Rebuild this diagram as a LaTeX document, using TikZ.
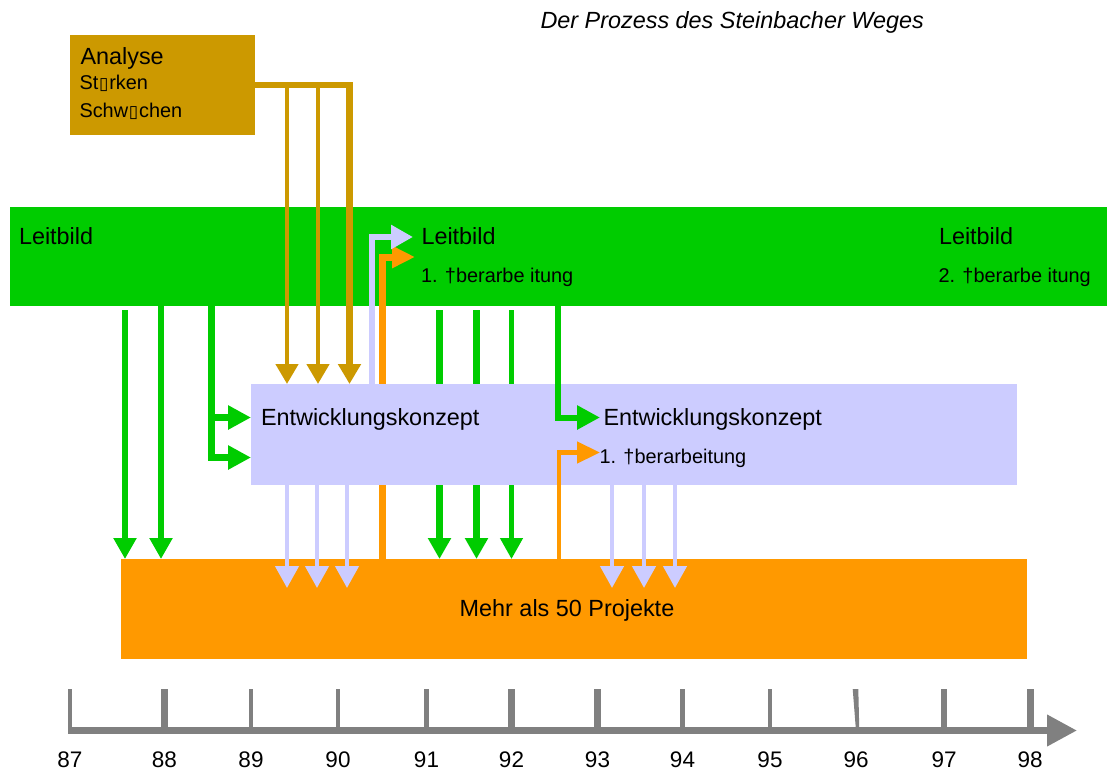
\documentclass[tikz,border=0pt]{standalone}
\usepackage{fontspec}
\setmainfont{Liberation Sans}
\newfontfamily\symfont{DejaVu Sans}
\usetikzlibrary{arrows.meta}
\definecolor{cgreen}{HTML}{00CC00}
\definecolor{cgold}{HTML}{CC9900}
\definecolor{clav}{HTML}{CCCCFF}
\definecolor{corange}{HTML}{FF9900}
\definecolor{cgray}{HTML}{808080}
\newcommand\fbig{\fontsize{23.4pt}{27pt}\selectfont}
\newcommand\fsmall{\fontsize{19.9pt}{23pt}\selectfont}
\newcommand\fnum{\fontsize{22.5pt}{26pt}\selectfont}
\newcommand\nbox{\kern0.8pt{\symfont\fontsize{17pt}{19pt}\selectfont ▯}\kern0.8pt}
\begin{document}
\begin{tikzpicture}[x=1pt,y=-1pt,
  panel/.style={inner sep=0pt, outer sep=0pt, anchor=north west, draw=none},
  lbl/.style={inner sep=0pt, outer sep=0pt, anchor=base west, text=black},
  tipA/.style={-{Triangle[length=21pt,width=22pt]}},
  tipB/.style={-{Triangle[length=23pt,width=23pt]}},
  garrow/.style={tipA, draw=cgreen, line width=6.5pt},
  garrowb/.style={tipB, draw=cgreen, line width=6.5pt},
  goldarrow/.style={-{Triangle[length=20pt,width=22pt]}, draw=cgold},
  larrow/.style={-{Triangle[length=22pt,width=23pt]}, draw=clav, line width=4.5pt},
  oarrow/.style={-{Triangle[length=23pt,width=21pt]}, draw=corange},
  axisline/.style={-{Triangle[length=30pt,width=30pt]}, draw=cgray, line width=7pt},
  tick/.style={draw=cgray},
  num/.style={inner sep=0pt, outer sep=0pt, anchor=base, font=\fnum}
]
\useasboundingbox[fill=white] (0,0) rectangle (1107,770);

% title
\node[lbl, font=\fbig\itshape] (title) at (540.5,28.5) {Der Prozess des Steinbacher Weges};

% panels
\node[panel, fill=cgreen, minimum width=1097pt, minimum height=99pt] (lb) at (10,207) {};
\node[panel, fill=cgold, minimum width=185pt, minimum height=100pt] (ana) at (70,35) {};
\node[panel, fill=corange, minimum width=906pt, minimum height=100pt] (proj) at (121,559) {};

% arrows passing behind the Entwicklungskonzept panel
\foreach \x/\w in {439.5/7, 476.5/7, 511.5/4.5}{
  \path (\x,310) coordinate (gs);
  \draw[garrow, line width=\w pt] (gs) -- (gs |- proj.north);
}
\coordinate (o1e) at (415,257);
\draw[oarrow, line width=7pt] (proj.north -| 382.5,0) |- (o1e);

\node[panel, fill=clav, minimum width=766pt, minimum height=101pt] (ent) at (251,384) {};

% green arrows
\coordinate (g1s) at (125,310);
\draw[garrow] (g1s) -- (g1s |- proj.north);
\draw[garrow] (lb.south -| 161,0) -- (proj.north -| 161,0);
\draw[garrowb] (lb.south -| 211.5,0) |- (ent.west |- 0,417.5);
\draw[garrowb] (lb.south -| 211.5,0) |- (ent.west |- 0,457.5);
\coordinate (e2g) at (600,417.5);
\draw[garrowb, line width=6pt] (lb.south -| 557.5,0) |- (e2g);

% orange arrow to 1. Ueberarbeitung
\coordinate (e2o) at (600,452.5);
\draw[oarrow, line width=4.5pt] (proj.north -| 559,0) |- (e2o);

% lavender arrows
\coordinate (lb1l) at (413,237);
\draw[larrow, line width=6pt] (ent.north -| 372,0) |- (lb1l);
\foreach \x in {287,317,347,612,644,675}{
  \path (\x,588) coordinate (ld);
  \draw[larrow] (ent.south -| ld) -- (ld);
}

% gold arrows
\foreach \x/\w in {287/4.5, 318/4.5, 349.5/6.5}{
  \draw[goldarrow, line width=\w pt] (ana.east) -| (ent.north -| \x,0);
}

% texts
\node[lbl, font=\fbig] (ta) at (80.5,65) {Analyse};
\node[lbl, font=\fsmall] (tb) at (79.5,90) {St\nbox rken};
\node[lbl, font=\fsmall] (tc) at (79.5,117.3) {Schw\nbox chen};

\node[lbl, font=\fbig] (l0) at (19,244) {Leitbild};
\node[lbl, font=\fbig] (l1) at (421.5,244) {Leitbild};
\node[lbl, font=\fsmall] (l1b) at (421,282) {1. †berarbe itung};
\node[lbl, font=\fbig] (l2) at (939,244) {Leitbild};
\node[lbl, font=\fsmall] (l2b) at (938.5,282) {2. †berarbe itung};

\node[lbl, font=\fbig] (e1) at (261,425) {Entwicklungskonzept};
\node[lbl, font=\fbig] (e2) at (603.5,425) {Entwicklungskonzept};
\node[lbl, font=\fsmall] (e2b) at (599.5,463.3) {1. †berarbeitung};

\node[inner sep=0pt, anchor=base, font=\fbig] (pt) at (567,616.7) {Mehr als 50 Projekte};

% timeline
\coordinate (ax0) at (68,730.5);
\coordinate (ax1) at (1077,730.5);
\draw[axisline] (ax0) -- (ax1);
\foreach \x/\w/\l in {69.8/3.5/87, 164.5/7/88, 251/4.5/89, 338/4.5/90, 426.5/4.5/91, 511.5/7/92, 597.5/7/93, 682.5/5/94, 770/4/95, 944/6.5/97, 1030/7/98}{
  \draw[tick, line width=\w pt] (\x,689) -- (\x,731);
  \node[num] (y\l) at (\x,767) {\l};
}
\fill[cgray] (852.7,689) -- (858.3,689) -- (859.3,731) -- (856,731) -- cycle;
\node[num] (y96) at (856,767) {96};
\end{tikzpicture}
\end{document}
